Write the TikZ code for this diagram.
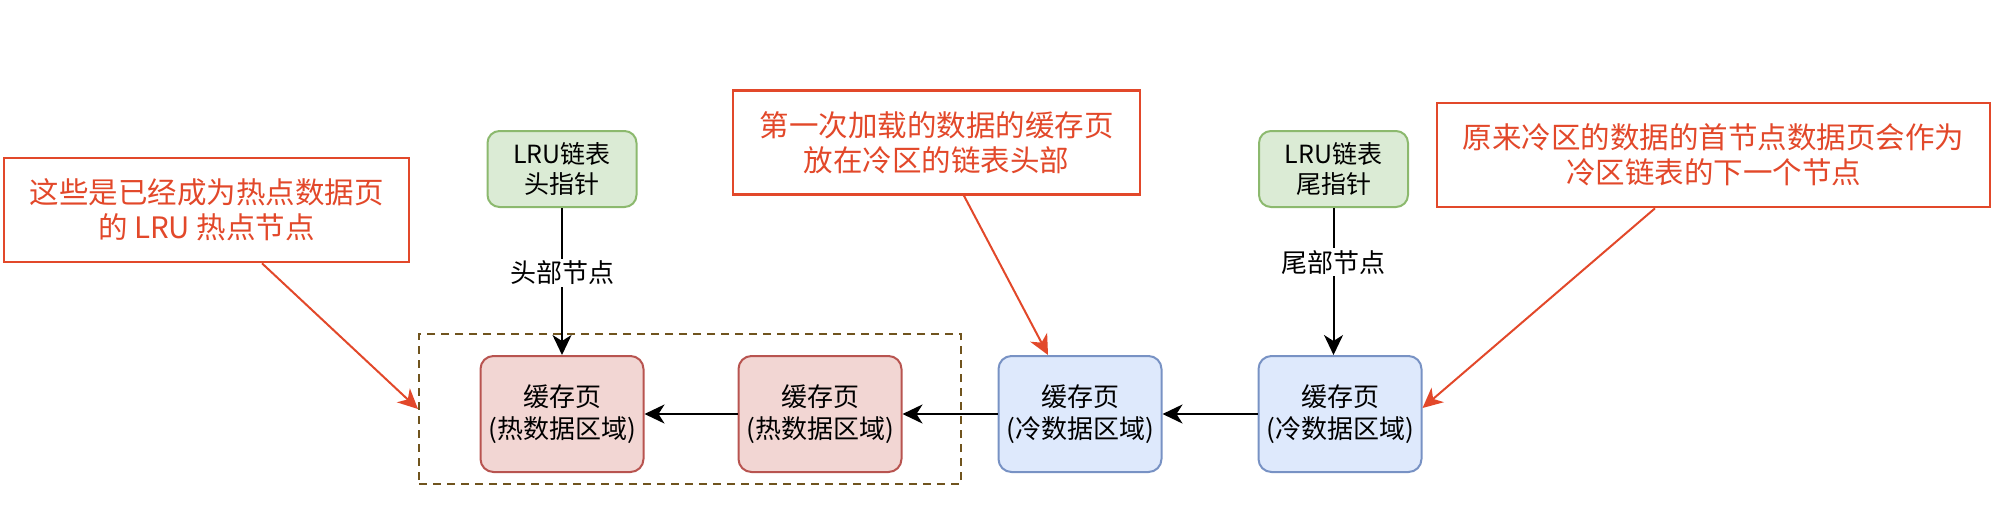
\documentclass[tikz,border=0pt]{standalone}
\usepackage{fontspec}
\setmainfont{Noto Sans CJK SC}
\usetikzlibrary{arrows.meta}
\definecolor{callred}{RGB}{226,72,42}
\definecolor{hotfill}{RGB}{242,214,211}
\definecolor{hotdraw}{RGB}{184,84,80}
\definecolor{coldfill}{RGB}{222,233,252}
\definecolor{colddraw}{RGB}{120,146,196}
\definecolor{grnfill}{RGB}{219,235,213}
\definecolor{grndraw}{RGB}{140,185,110}
\definecolor{dashbrown}{RGB}{112,84,30}
\begin{document}
\begin{tikzpicture}[x=1pt,y=-1pt,
  page/.style={draw, line width=2pt, rounded corners=13pt, minimum width=163pt, minimum height=116pt,
    inner sep=0pt, align=center, font=\fontsize{26}{32}\selectfont},
  hotpage/.style={page, fill=hotfill, draw=hotdraw},
  coldpage/.style={page, fill=coldfill, draw=colddraw},
  pointer/.style={draw=grndraw, fill=grnfill, line width=2pt, rounded corners=12pt, minimum width=149pt,
    minimum height=76pt, inner sep=0pt, align=center, font=\fontsize{25}{30}\selectfont},
  callout/.style={draw=callred, line width=2.6pt, text=callred, inner sep=0pt, align=center,
    minimum height=104pt, font=\fontsize{29.5}{35}\selectfont},
  arr/.style={line width=2pt, -{Stealth[length=20pt,width=19pt,inset=6pt]}},
  redarr/.style={draw=callred, line width=2pt, -{Stealth[length=20pt,width=19pt,inset=6pt]}, color=callred},
  elabel/.style={fill=white, inner sep=2pt, font=\fontsize{26}{32}\selectfont}
]
\useasboundingbox (0,0) rectangle (2004,512);

% dashed hot region
\node[draw=dashbrown, line width=2pt, dash pattern=on 8pt off 6pt, minimum width=542pt, minimum height=150pt,
  inner sep=0pt] (hotzone) at (690,409) {};

% pages
\node[hotpage] (hot1) at (562,414) {缓存页\\(热数据区域)};
\node[hotpage] (hot2) at (820,414) {缓存页\\(热数据区域)};
\node[coldpage] (cold1) at (1080,414) {缓存页\\(冷数据区域)};
\node[coldpage] (cold2) at (1340,414) {缓存页\\(冷数据区域)};

% pointers
\node[pointer] (head) at (562,169) {LRU链表\\头指针};
\node[pointer] (tail) at (1333.5,169) {LRU链表\\尾指针};

% callouts
\node[callout, minimum width=405pt] (lcall) at (206.5,210) {这些是已经成为热点数据页\\的 LRU 热点节点};
\node[callout, minimum width=407pt] (mcall) at (936.5,142.5) {第一次加载的数据的缓存页\\放在冷区的链表头部};
\node[callout, minimum width=553pt] (rcall) at (1713.5,155) {原来冷区的数据的首节点数据页会作为\\冷区链表的下一个节点};

% chain arrows
\draw[arr] (cold2) -- (cold1);
\draw[arr] (cold1) -- (hot2);
\draw[arr] (hot2) -- (hot1);

% pointer arrows
\draw[arr] (head) -- (hot1) node[elabel, pos=0.44] {头部节点};
\draw[arr] (tail.south) -- (tail.south |- cold2.north) node[elabel, pos=0.37] {尾部节点};

% callout arrows
\draw[redarr] ([xshift=55.5pt]lcall.south) -- (hotzone.west);
\draw[redarr] ([xshift=27.5pt]mcall.south) -- ([xshift=-32pt]cold1.north);
\draw[redarr] ([xshift=-58.5pt]rcall.south) -- ([yshift=6pt]cold2.east);
\end{tikzpicture}
\end{document}
